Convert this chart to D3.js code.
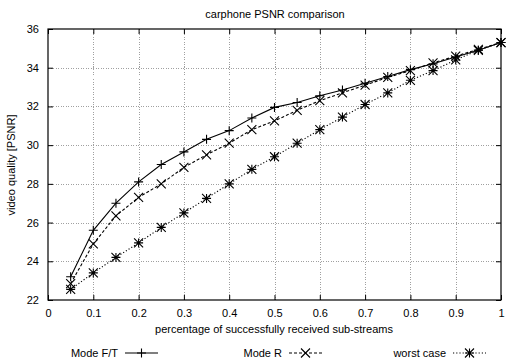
<!DOCTYPE html>
<html>
<head>
<meta charset="utf-8">
<script src="https://cdn.jsdelivr.net/npm/d3@7/dist/d3.min.js"></script>
<style>
  body { margin: 0; background: #fff; }
  text { font-family: "Liberation Sans", Arial, sans-serif; fill: #000; }
</style>
</head>
<body>
<div id="chart"></div>
<script>
// data
const xs = [0.05, 0.1, 0.15, 0.2, 0.25, 0.3, 0.35, 0.4, 0.45, 0.5,
            0.55, 0.6, 0.65, 0.7, 0.75, 0.8, 0.85, 0.9, 0.95, 1.0];
const modeFT = [23.2, 25.6, 27.0, 28.1, 29.0, 29.65, 30.3, 30.75, 31.4, 31.95,
                32.2, 32.55, 32.85, 33.2, 33.55, 33.9, 34.2, 34.55, 34.9, 35.3];
const modeR = [22.85, 24.9, 26.35, 27.3, 28.0, 28.85, 29.5, 30.1, 30.8, 31.25,
               31.8, 32.3, 32.7, 33.1, 33.5, 33.85, 34.25, 34.6, 34.95, 35.3];
const worstCase = [22.55, 23.4, 24.2, 24.95, 25.75, 26.5, 27.25, 28.0, 28.75, 29.4,
                   30.1, 30.8, 31.45, 32.1, 32.7, 33.35, 33.85, 34.4, 34.9, 35.3];
const xTicks = [0, 0.1, 0.2, 0.3, 0.4, 0.5, 0.6, 0.7, 0.8, 0.9, 1];
const yTicks = [22, 24, 26, 28, 30, 32, 34, 36];
const seriesNames = ['Mode F/T', 'Mode R', 'worst case'];

const width = 508, height = 364;
const margin = { top: 29, right: 7, bottom: 64, left: 48 };
const iw = width - margin.left - margin.right;
const ih = height - margin.top - margin.bottom;

const svg = d3.select('#chart').append('svg')
  .attr('width', width)
  .attr('height', height);

const x = d3.scaleLinear().domain([0, 1]).range([margin.left, margin.left + iw]);
const y = d3.scaleLinear().domain([22, 36]).range([margin.top + ih, margin.top]);

// grid
const grid = svg.append('g').attr('stroke', '#888').attr('stroke-width', 0.8)
  .attr('stroke-dasharray', '1,1.5').attr('shape-rendering', 'crispEdges');
grid.selectAll('.gx').data(xTicks.slice(1, -1)).enter().append('line')
  .attr('x1', d => Math.round(x(d)) + 0.5).attr('x2', d => Math.round(x(d)) + 0.5)
  .attr('y1', y(22)).attr('y2', y(36));
grid.selectAll('.gy').data(yTicks.slice(1, -1)).enter().append('line')
  .attr('y1', d => Math.round(y(d)) + 0.5).attr('y2', d => Math.round(y(d)) + 0.5)
  .attr('x1', x(0)).attr('x2', x(1));

// axes (ticks inside, mirrored)
const fmt = d => String(d);
svg.append('g').attr('transform', `translate(0,${y(22)})`)
  .call(d3.axisBottom(x).tickValues(xTicks).tickSize(-5).tickPadding(9).tickFormat(fmt))
  .call(g => g.select('.domain').remove())
  .call(g => g.selectAll('text').attr('font-size', 11).attr('font-family', '"Liberation Sans", Arial, sans-serif'));
svg.append('g').attr('transform', `translate(0,${y(36)})`)
  .call(d3.axisTop(x).tickValues(xTicks).tickSize(-5).tickFormat(''))
  .call(g => g.select('.domain').remove());
svg.append('g').attr('transform', `translate(${x(0)},0)`)
  .call(d3.axisLeft(y).tickValues(yTicks).tickSize(-5).tickPadding(9).tickFormat(fmt))
  .call(g => g.select('.domain').remove())
  .call(g => g.selectAll('text').attr('font-size', 11).attr('font-family', '"Liberation Sans", Arial, sans-serif'));
svg.append('g').attr('transform', `translate(${x(1)},0)`)
  .call(d3.axisRight(y).tickValues(yTicks).tickSize(-5).tickFormat(''))
  .call(g => g.select('.domain').remove());

svg.append('rect')
  .attr('x', x(0)).attr('y', y(36))
  .attr('width', x(1) - x(0)).attr('height', y(22) - y(36))
  .attr('fill', 'none').attr('stroke', '#000').attr('stroke-width', 1.2);

// series
const series = [
  { name: seriesNames[0], values: modeFT, dash: null, marker: 'plus' },
  { name: seriesNames[1], values: modeR, dash: '3,2', marker: 'cross' },
  { name: seriesNames[2], values: worstCase, dash: '1.2,2', marker: 'star' }
];

const line = d3.line().x((d, i) => x(xs[i])).y(d => y(d));
const s = 4.5;
function drawMarker(g, cx, cy, type) {
  const p = d3.path();
  if (type === 'plus' || type === 'star') {
    p.moveTo(cx - s, cy); p.lineTo(cx + s, cy);
    p.moveTo(cx, cy - s); p.lineTo(cx, cy + s);
  }
  if (type === 'cross' || type === 'star') {
    p.moveTo(cx - s, cy - s); p.lineTo(cx + s, cy + s);
    p.moveTo(cx - s, cy + s); p.lineTo(cx + s, cy - s);
  }
  g.append('path').attr('d', p.toString()).attr('stroke', '#000')
    .attr('stroke-width', 1.1).attr('fill', 'none');
}

series.forEach(sr => {
  svg.append('path').datum(sr.values)
    .attr('d', line).attr('fill', 'none').attr('stroke', '#000')
    .attr('stroke-width', 1.1)
    .attr('stroke-dasharray', sr.dash);
  const mg = svg.append('g');
  sr.values.forEach((v, i) => drawMarker(mg, x(xs[i]), y(v), sr.marker));
});

// titles
svg.append('text').attr('x', 275).attr('y', 18).attr('text-anchor', 'middle')
  .attr('font-size', 11).text('carphone PSNR comparison');
svg.append('text').attr('x', 274).attr('y', 333).attr('text-anchor', 'middle')
  .attr('font-size', 11).text('percentage of successfully received sub-streams');
svg.append('text').attr('transform', 'translate(15,165) rotate(-90)')
  .attr('text-anchor', 'middle').attr('font-size', 11).text('video quality [PSNR]');

// legend
const legendX = [118, 282, 446];
const ly = 353;
series.forEach((sr, i) => {
  svg.append('text').attr('x', legendX[i]).attr('y', ly + 4)
    .attr('text-anchor', 'end').attr('font-size', 11).text(sr.name);
  const x0 = legendX[i] + 7, x1 = x0 + 33;
  svg.append('line').attr('x1', x0).attr('x2', x1).attr('y1', ly).attr('y2', ly)
    .attr('stroke', '#000').attr('stroke-width', 1.1).attr('stroke-dasharray', sr.dash);
  drawMarker(svg.append('g'), (x0 + x1) / 2, ly, sr.marker);
});
</script>
</body>
</html>
